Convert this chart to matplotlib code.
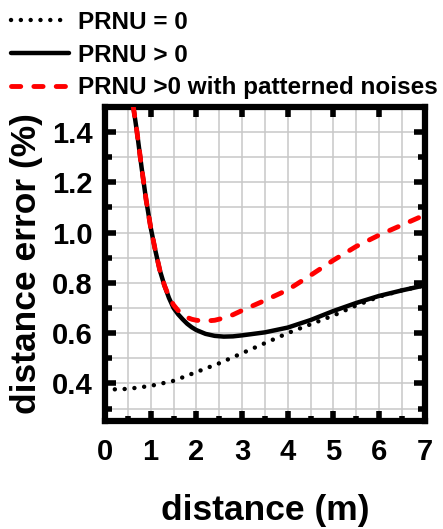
import matplotlib
matplotlib.use("Agg")
import matplotlib.pyplot as plt
from matplotlib.ticker import MultipleLocator

plt.rcParams['font.family'] = ['Liberation Sans', 'DejaVu Sans']
plt.rcParams['font.weight'] = 'bold'

# PRNU = 0 (dotted)
dist_zero = [0.0, 0.5, 1.0, 1.5, 2.0, 2.5, 3.0, 3.5, 4.0, 4.5, 5.0, 5.5, 6.0, 6.5, 7.0]
err_zero = [0.375, 0.378, 0.39, 0.41, 0.445, 0.48, 0.52, 0.56, 0.60, 0.635, 0.67, 0.71, 0.745, 0.77, 0.79]

# PRNU > 0 (solid)
dist_prnu = [0.62, 0.7, 0.8, 0.9, 1.0, 1.1, 1.2, 1.3, 1.4, 1.5, 1.6, 1.7, 1.8, 1.9, 2.0, 2.2, 2.4,
             2.6, 2.8, 3.0, 3.5, 4.0, 4.5, 5.0, 5.5, 6.0, 6.5, 7.0]
err_prnu = [1.5, 1.40, 1.26, 1.13, 1.02, 0.93, 0.85, 0.79, 0.74, 0.70, 0.675, 0.655, 0.637, 0.623,
            0.612, 0.597, 0.589, 0.586, 0.587, 0.591, 0.603, 0.622, 0.652, 0.688, 0.72, 0.748, 0.77, 0.79]

# PRNU > 0 with patterned noises (red dashed)
dist_pattern = [0.62, 0.7, 0.8, 0.9, 1.0, 1.1, 1.2, 1.3, 1.4, 1.5, 1.6, 1.7, 1.8, 1.9, 2.0, 2.2, 2.4,
                2.6, 2.8, 3.0, 3.5, 4.0, 4.5, 5.0, 5.5, 6.0, 6.5, 7.0]
err_pattern = [1.5, 1.40, 1.26, 1.13, 1.02, 0.93, 0.85, 0.79, 0.745, 0.712, 0.69, 0.674, 0.662, 0.655,
               0.651, 0.648, 0.651, 0.66, 0.673, 0.69, 0.73, 0.772, 0.83, 0.89, 0.945, 0.99, 1.03, 1.07]

series_labels = ["PRNU = 0", "PRNU > 0", "PRNU >0 with patterned noises"]

fig = plt.figure(figsize=(4.43, 5.29), dpi=100)
ax = fig.add_axes([0.237, 0.204, 0.722, 0.594])

l0, = ax.plot(dist_zero, err_zero, color='black', lw=3.2,
              linestyle=(0, (0.01, 2.2)), dash_capstyle='round', zorder=3)
l1, = ax.plot(dist_prnu, err_prnu, color='black', lw=3.2,
              solid_capstyle='round', solid_joinstyle='round', zorder=4)
l2, = ax.plot(dist_pattern, err_pattern, color='#ff0000', lw=3.5,
              linestyle=(0, (1.9, 2.7)), dash_capstyle='round', zorder=5)

ax.set_xlim(0, 7)
ax.set_ylim(0.25, 1.5)
ax.xaxis.set_major_locator(MultipleLocator(1))
ax.xaxis.set_minor_locator(MultipleLocator(0.5))
ax.yaxis.set_minor_locator(MultipleLocator(0.1))
ax.set_yticks([0.4, 0.6, 0.8, 1.0, 1.2, 1.4])
ax.set_yticklabels(["0.4", "0.6", "0.8", "1.0", "1.2", "1.4"])

ax.grid(which='both', color='#c8c8c8', lw=1.1, zorder=0)
ax.set_axisbelow(True)

for sp in ax.spines.values():
    sp.set_linewidth(4.5)

ax.tick_params(axis='x', which='major', direction='in', length=7, width=4,
               top=True, bottom=True, labelsize=21, pad=12)
ax.tick_params(axis='x', which='minor', direction='in', length=3.5, width=4,
               top=False, bottom=True)
ax.tick_params(axis='y', which='major', direction='in', length=8, width=4,
               left=True, right=True, labelsize=21, pad=9)
ax.tick_params(axis='y', which='minor', direction='in', length=5, width=4,
               left=True, right=True)
for lab in ax.get_xticklabels() + ax.get_yticklabels():
    lab.set_fontweight('bold')

ax.set_xlabel("distance (m)", fontsize=25.5, fontweight='bold', labelpad=20)
fig.text(27 / 443, 1 - 264 / 529, "distance error (%)", rotation=90,
         ha='center', va='center', fontsize=25.5, fontweight='bold')

fig.legend([l0, l1, l2], series_labels, loc='upper left',
           bbox_to_anchor=(0, 1), borderaxespad=0, frameon=False,
           prop={'size': 17.5, 'weight': 'bold'}, handlelength=2.4,
           handletextpad=0.37, labelspacing=0.4, borderpad=0.45)

fig.savefig("out.png", dpi=100)
